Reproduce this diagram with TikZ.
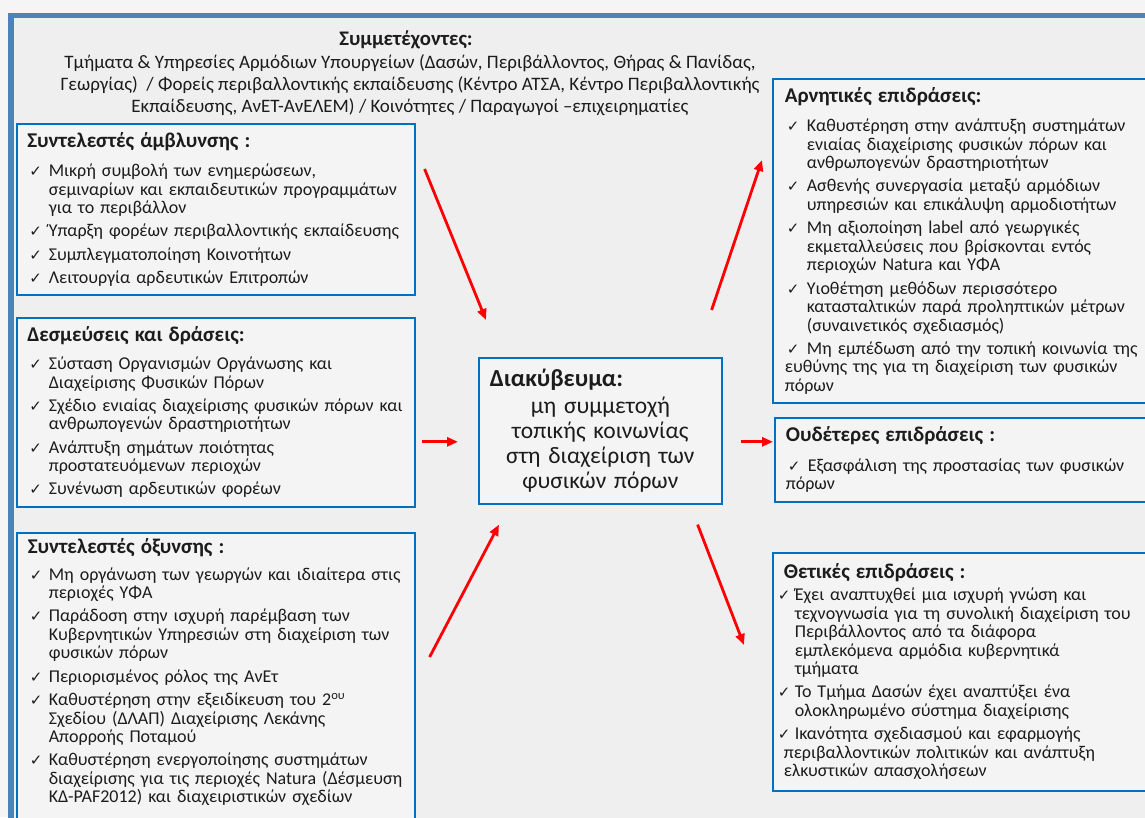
\documentclass[tikz,border=0pt]{standalone}
\usepackage{fontspec}
\setmainfont{Carlito}
\newfontfamily\chkfont{DejaVu Sans}
\usetikzlibrary{arrows.meta,calc}

\definecolor{frameblue}{RGB}{79,129,189}
\definecolor{boxblue}{RGB}{0,112,192}
\definecolor{paper}{RGB}{239,239,239}
\definecolor{boxfill}{RGB}{244,244,244}
\definecolor{inkgray}{RGB}{28,28,28}

\newlength{\chkshift}
\newlength{\chkhang}
\newcommand{\chkset}[2]{\setlength{\chkshift}{#1}\setlength{\chkhang}{#2}}
\newcommand{\nl}{\hfil\break}
\newcommand{\boxhead}[2]{{\noindent\bfseries\fontsize{21}{20}\selectfont #2\par}\vskip #1}
\newcommand{\chkitem}[1]{\par\vskip 4.8pt\hangindent=\chkhang\hangafter=1\rightskip=-12pt\noindent
  \hbox to \chkhang{\hskip\chkshift{\chkfont\bfseries\fontsize{15}{12}\selectfont ✓}\hfil}#1}

\begin{document}
\begin{tikzpicture}[x=1pt,y=-1pt,
    box/.style={draw=boxblue, line width=1.6pt, fill=boxfill, anchor=north west, inner ysep=6pt,
      text=inkgray, font=\fontsize{18}{18.5}\selectfont},
    arr/.style={draw=red, line width=2.8pt, -{Triangle[length=11pt,width=9pt]}}]
  \clip (0,0) rectangle (1145,817);
  \fill[white!96!black] (0,0) rectangle (1145,817);
  \fill[paper] (11,15.5) rectangle (1170,840);
  \draw[frameblue, line width=5.5pt] (11,15.5) rectangle (1170,840);
  %
  \node[text=inkgray, font=\bfseries\fontsize{20.7}{22}\selectfont] (parttitle) at (406,40) {Συμμετέχοντες:};
  \node[text=inkgray, align=center, font=\fontsize{19}{22}\selectfont, anchor=north] (partlist) at (410,51)
    {Τμήματα \& Υπηρεσίες Αρμόδιων Υπουργείων (Δασών, Περιβάλλοντος, Θήρας \& Πανίδας,\\
     Γεωργίας) \ / Φορείς περιβαλλοντικής εκπαίδευσης (Κέντρο ΑΤΣΑ, Κέντρο Περιβαλλοντικής\\
     Εκπαίδευσης, ΑνΕΤ-ΑνΕΛΕΜ) / Κοινότητες / Παραγωγοί –επιχειρηματίες};
  %
  \node[box, inner xsep=10.5pt, text width=377pt, minimum height=171pt] (amb) at (16,123)
    {\chkset{2pt}{21.5pt}\boxhead{6pt}{Συντελεστές άμβλυνσης :}%
     \chkitem{Μικρή συμβολή των ενημερώσεων,\nl σεμιναρίων και εκπαιδευτικών προγραμμάτων\nl για το περιβάλλον}%
     \chkitem{Ύπαρξη φορέων περιβαλλοντικής εκπαίδευσης}%
     \chkitem{Συμπλεγματοποίηση Κοινοτήτων}%
     \chkitem{Λειτουργία αρδευτικών Επιτροπών}};
  \node[box, inner xsep=10.5pt, text width=377pt, minimum height=189pt] (comm) at (16,317)
    {\chkset{2pt}{21.5pt}\boxhead{4.5pt}{Δεσμεύσεις και δράσεις:}%
     \chkitem{Σύσταση Οργανισμών Οργάνωσης και\nl Διαχείρισης Φυσικών Πόρων}%
     \chkitem{Σχέδιο ενιαίας διαχείρισης φυσικών πόρων και\nl ανθρωπογενών δραστηριοτήτων}%
     \chkitem{Ανάπτυξη σημάτων ποιότητας\nl προστατευόμενων περιοχών}%
     \chkitem{Συνένωση αρδευτικών φορέων}};
  \node[box, inner xsep=11pt, text width=376pt] (agg) at (16,532)
    {\chkset{2pt}{21pt}\boxhead{3pt}{Συντελεστές όξυνσης :}%
     \chkitem{Μη οργάνωση των γεωργών και ιδιαίτερα στις\nl περιοχές ΥΦΑ}%
     \chkitem{Παράδοση στην ισχυρή παρέμβαση των\nl Κυβερνητικών Υπηρεσιών στη διαχείριση των\nl φυσικών πόρων}%
     \chkitem{Περιορισμένος ρόλος της ΑνΕτ}%
     \chkitem{Καθυστέρηση στην εξειδίκευση του 2\textsuperscript{ου}\nl Σχεδίου (ΔΛΑΠ) Διαχείρισης Λεκάνης\nl Απορροής Ποταμού}%
     \chkitem{Καθυστέρηση ενεργοποίησης συστημάτων\nl διαχείρισης για τις περιοχές Natura (Δέσμευση\nl ΚΔ-PAF2012) και διαχειριστικών σχεδίων}%
     \par\vskip 14pt\null};
  %
  \node[box, inner xsep=11pt, text width=221pt, minimum height=146pt, font=\fontsize{23.5}{25}\selectfont] (stake) at (478,357)
    {\noindent{\bfseries\fontsize{24.5}{25}\selectfont Διακύβευμα:}\par\vskip 2pt
     {\centering μη συμμετοχή\\ τοπικής κοινωνίας\\ στη διαχείριση των\\ φυσικών πόρων\par}};
  %
  \node[box, inner xsep=12pt, text width=359pt, minimum height=324pt] (neg) at (772,78)
    {\chkset{2pt}{22pt}\boxhead{6pt}{Αρνητικές επιδράσεις:}%
     \chkitem{Καθυστέρηση στην ανάπτυξη συστημάτων\nl ενιαίας διαχείρισης φυσικών πόρων και\nl ανθρωπογενών δραστηριοτήτων}%
     \chkitem{Ασθενής συνεργασία μεταξύ αρμόδιων\nl υπηρεσιών και επικάλυψη αρμοδιοτήτων}%
     \chkitem{Μη αξιοποίηση label από γεωργικές\nl εκμεταλλεύσεις που βρίσκονται εντός\nl περιοχών Natura και ΥΦΑ}%
     \chkitem{Υιοθέτηση μεθόδων περισσότερο\nl κατασταλτικών παρά προληπτικών μέτρων\nl (συναινετικός σχεδιασμός)}%
     \chkitem{Μη εμπέδωση από την τοπική κοινωνία της\nl ευθύνης της για τη διαχείριση των φυσικών\nl πόρων}};
  \node[box, inner xsep=11pt, text width=359pt, minimum height=84pt] (neut) at (774,417)
    {\chkset{2pt}{22pt}\boxhead{6pt}{Ουδέτερες επιδράσεις :}%
     \chkitem{Εξασφάλιση της προστασίας των φυσικών\nl πόρων}};
  \node[box, inner xsep=11pt, text width=361pt, minimum height=238pt] (pos) at (772,552)
    {\chkset{-6pt}{11pt}\boxhead{-1.5pt}{Θετικές επιδράσεις :}%
     \chkitem{Έχει αναπτυχθεί μια ισχυρή γνώση και\nl τεχνογνωσία για τη συνολική διαχείριση του\nl Περιβάλλοντος από τα διάφορα\nl εμπλεκόμενα αρμόδια κυβερνητικά\nl τμήματα}%
     \chkitem{Το Τμήμα Δασών έχει αναπτύξει ένα\nl ολοκληρωμένο σύστημα διαχείρισης}%
     \chkitem{Ικανότητα σχεδιασμού και εφαρμογής\nl περιβαλλοντικών πολιτικών και ανάπτυξη\nl ελκυστικών απασχολήσεων}};
  %
  \draw[arr] ($(amb.north east)+(9,46)$) -- ($(stake.north west)+(8,-37)$);
  \draw[arr] ($(comm.east|-stake.west)+(6,11)$) -- ($(stake.west)+(-20,11)$);
  \draw[arr] ($(agg.north east)+(14,125)$) -- ($(stake.south west)+(21,20)$);
  \draw[arr] ($(stake.north east)+(-11,-47)$) -- ($(neg.north west)+(-10,82)$);
  \draw[arr] ($(stake.east)+(18,11)$) -- ($(neut.west|-stake.east)+(-1,11)$);
  \draw[arr] ($(stake.south east)+(-25,20)$) -- ($(pos.north west)+(-28,93)$);
\end{tikzpicture}
\end{document}
